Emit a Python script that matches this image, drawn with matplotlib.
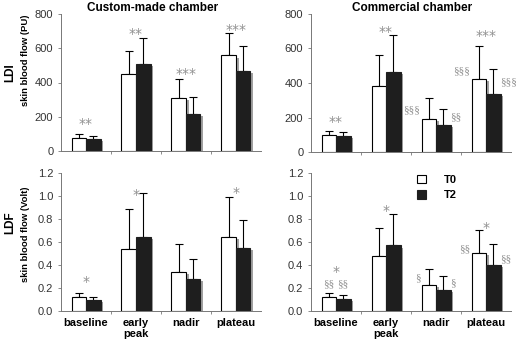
import numpy as np
import matplotlib.pyplot as plt
from matplotlib import patheffects as pe
from matplotlib.patches import Patch

plt.rcParams['font.family'] = ['Liberation Sans', 'DejaVu Sans']

groups = ['baseline', 'early\npeak', 'nadir', 'plateau']

# LDI (PU), custom-made chamber
ldi_custom_t0 = [78, 448, 312, 558]
ldi_custom_t0_sd = [19, 135, 110, 132]
ldi_custom_t2 = [72, 510, 215, 467]
ldi_custom_t2_sd = [13, 149, 101, 149]

# LDI (PU), commercial chamber
ldi_comm_t0 = [101, 382, 194, 426]
ldi_comm_t0_sd = [21, 180, 120, 190]
ldi_comm_t2 = [93, 465, 155, 339]
ldi_comm_t2_sd = [23, 213, 97, 142]

# LDF (Volt), custom-made chamber
ldf_custom_t0 = [0.118, 0.537, 0.339, 0.643]
ldf_custom_t0_sd = [0.038, 0.353, 0.245, 0.345]
ldf_custom_t2 = [0.097, 0.643, 0.276, 0.545]
ldf_custom_t2_sd = [0.027, 0.380, 0.174, 0.245]

# LDF (Volt), commercial chamber
ldf_comm_t0 = [0.119, 0.474, 0.223, 0.502]
ldf_comm_t0_sd = [0.035, 0.247, 0.140, 0.200]
ldf_comm_t2 = [0.105, 0.570, 0.185, 0.400]
ldf_comm_t2_sd = [0.037, 0.276, 0.119, 0.180]

# significance marks: (group, text, where, level)
# where: c = over the pair, w = over T0, b = over T2, l = left of T0, r = right of T2
ldi_custom_marks = [(0, '**', 'c', 160), (1, '**', 'c', 684),
                    (2, '***', 'c', 448), (3, '***', 'c', 707)]
ldi_comm_marks = [(0, '**', 'c', 174), (1, '**', 'c', 698),
                  (2, '\u00a7\u00a7\u00a7', 'l', 242), (2, '\u00a7\u00a7', 'r', 203),
                  (3, '***', 'c', 672),
                  (3, '\u00a7\u00a7\u00a7', 'l', 469), (3, '\u00a7\u00a7\u00a7', 'r', 407)]
ldf_custom_marks = [(0, '*', 'c', 0.25), (1, '*', 'c', 1.01), (3, '*', 'c', 1.03)]
ldf_comm_marks = [(0, '\u00a7\u00a7', 'w', 0.24), (0, '\u00a7\u00a7', 'b', 0.235),
                  (0, '*', 'c', 0.337), (1, '*', 'c', 0.866),
                  (2, '\u00a7', 'l', 0.287), (2, '\u00a7', 'r', 0.245),
                  (3, '*', 'c', 0.72),
                  (3, '\u00a7\u00a7', 'l', 0.537), (3, '\u00a7\u00a7', 'r', 0.458)]

W, H = 517, 340
fig = plt.figure(figsize=(W / 100, H / 100), dpi=100)

def box(x0, x1, ytop, ybot):
    return [x0 / W, 1 - ybot / H, (x1 - x0) / W, (ybot - ytop) / H]

bw = 0.29
shadow = [pe.SimplePatchShadow(offset=(2.0, -1.5), shadow_rgbFace='#a0a0a0', alpha=1.0),
          pe.Normal()]
mark_gray = '#909090'


def panel(rect, t0, t0sd, t2, t2sd, marks, ymax, yticks, fmt, xlabels):
    ax = fig.add_axes(rect)
    x = np.arange(len(groups))
    ax.bar(x - bw / 2, t0, bw, color='white', edgecolor='black', linewidth=0.8,
           path_effects=shadow, zorder=2)
    ax.bar(x + bw / 2, t2, bw, color='#1e1e1e', edgecolor='#1e1e1e', linewidth=0.8,
           path_effects=shadow, zorder=3)
    ax.errorbar(x - bw / 2, t0, yerr=[np.zeros(4), t0sd], fmt='none', ecolor='black',
                elinewidth=0.8, capsize=3.2, capthick=0.8, zorder=1)
    ax.errorbar(x + bw / 2, t2, yerr=[np.zeros(4), t2sd], fmt='none', ecolor='black',
                elinewidth=0.8, capsize=3.2, capthick=0.8, zorder=1)
    for g, txt, where, lev in marks:
        star = '*' in txt
        kw = dict(color=mark_gray, va='center', zorder=5)
        if star:
            kw.update(fontsize=10, family=['DejaVu Sans'])
        else:
            kw.update(fontsize=8, family=['Liberation Serif'])
        if where == 'c':
            ax.text(g, lev, txt, ha='center', **kw)
        elif where == 'w':
            ax.text(g - bw / 2, lev, txt, ha='center', **kw)
        elif where == 'b':
            ax.text(g + bw / 2, lev, txt, ha='center', **kw)
        elif where == 'l':
            ax.text(g - bw - 0.02, lev, txt, ha='right', **kw)
        else:
            ax.text(g + bw - 0.01, lev, txt, ha='left', **kw)
    ax.set_xlim(-0.5, 3.5)
    ax.set_ylim(0, ymax)
    ax.set_yticks(yticks)
    ax.set_yticklabels([fmt.format(v) for v in yticks])
    ax.set_xticks(x)
    if xlabels:
        ax.set_xticklabels(groups, fontweight='bold', fontsize=8, linespacing=1.1)
    else:
        ax.set_xticklabels([])
    ax.set_xticks([0.5, 1.5, 2.5], minor=True)
    ax.tick_params(axis='x', which='major', length=0, pad=5)
    ax.tick_params(axis='x', which='minor', length=2.5, width=0.6, color='#777777')
    ax.tick_params(axis='y', length=2.5, width=0.6, color='#777777', labelsize=8,
                   labelcolor='#333333', pad=3)
    for s in ['top', 'right']:
        ax.spines[s].set_visible(False)
    for s in ['left', 'bottom']:
        ax.spines[s].set_color('#777777')
        ax.spines[s].set_linewidth(0.7)
    return ax


ldi_ticks = [0, 200, 400, 600, 800]
ldf_ticks = [0.0, 0.2, 0.4, 0.6, 0.8, 1.0, 1.2]

panel(box(61, 261, 14, 151), ldi_custom_t0, ldi_custom_t0_sd, ldi_custom_t2,
      ldi_custom_t2_sd, ldi_custom_marks, 800, ldi_ticks, '{:.0f}', False)
panel(box(311, 511, 14, 152), ldi_comm_t0, ldi_comm_t0_sd, ldi_comm_t2,
      ldi_comm_t2_sd, ldi_comm_marks, 800, ldi_ticks, '{:.0f}', False)
panel(box(61, 261, 173, 311), ldf_custom_t0, ldf_custom_t0_sd, ldf_custom_t2,
      ldf_custom_t2_sd, ldf_custom_marks, 1.2, ldf_ticks, '{:.1f}', True)
ax4 = panel(box(311, 511, 173, 311), ldf_comm_t0, ldf_comm_t0_sd, ldf_comm_t2,
            ldf_comm_t2_sd, ldf_comm_marks, 1.2, ldf_ticks, '{:.1f}', True)

handles = [Patch(facecolor='white', edgecolor='black', linewidth=0.8),
           Patch(facecolor='#1e1e1e', edgecolor='#1e1e1e', linewidth=0.8)]
ax4.legend(handles, ['T0', 'T2'], loc='upper left', frameon=False,
           bbox_to_anchor=(417 / W, 1 - 175 / H), bbox_transform=fig.transFigure,
           prop={'weight': 'bold', 'size': 8}, handlelength=0.8, handleheight=0.8,
           handletextpad=1.6, labelspacing=0.45, borderpad=0, borderaxespad=0)

fig.text(153 / W, 1 - 8 / H, 'Custom-made chamber', ha='center', va='center',
         fontweight='bold', fontsize=8.5)
fig.text(412 / W, 1 - 8 / H, 'Commercial chamber', ha='center', va='center',
         fontweight='bold', fontsize=8.5)

fig.text(10 / W, 1 - 73 / H, 'LDI', rotation=90, ha='center', va='center',
         fontweight='bold', fontsize=8.5)
fig.text(26 / W, 1 - 60 / H, 'skin blood flow (PU)', rotation=90, ha='center',
         va='center', fontweight='bold', fontsize=6.8)
fig.text(10 / W, 1 - 223 / H, 'LDF', rotation=90, ha='center', va='center',
         fontweight='bold', fontsize=8.5)
fig.text(26 / W, 1 - 234 / H, 'skin blood flow (Volt)', rotation=90, ha='center',
         va='center', fontweight='bold', fontsize=6.8)

fig.savefig('out.png', dpi=100)
